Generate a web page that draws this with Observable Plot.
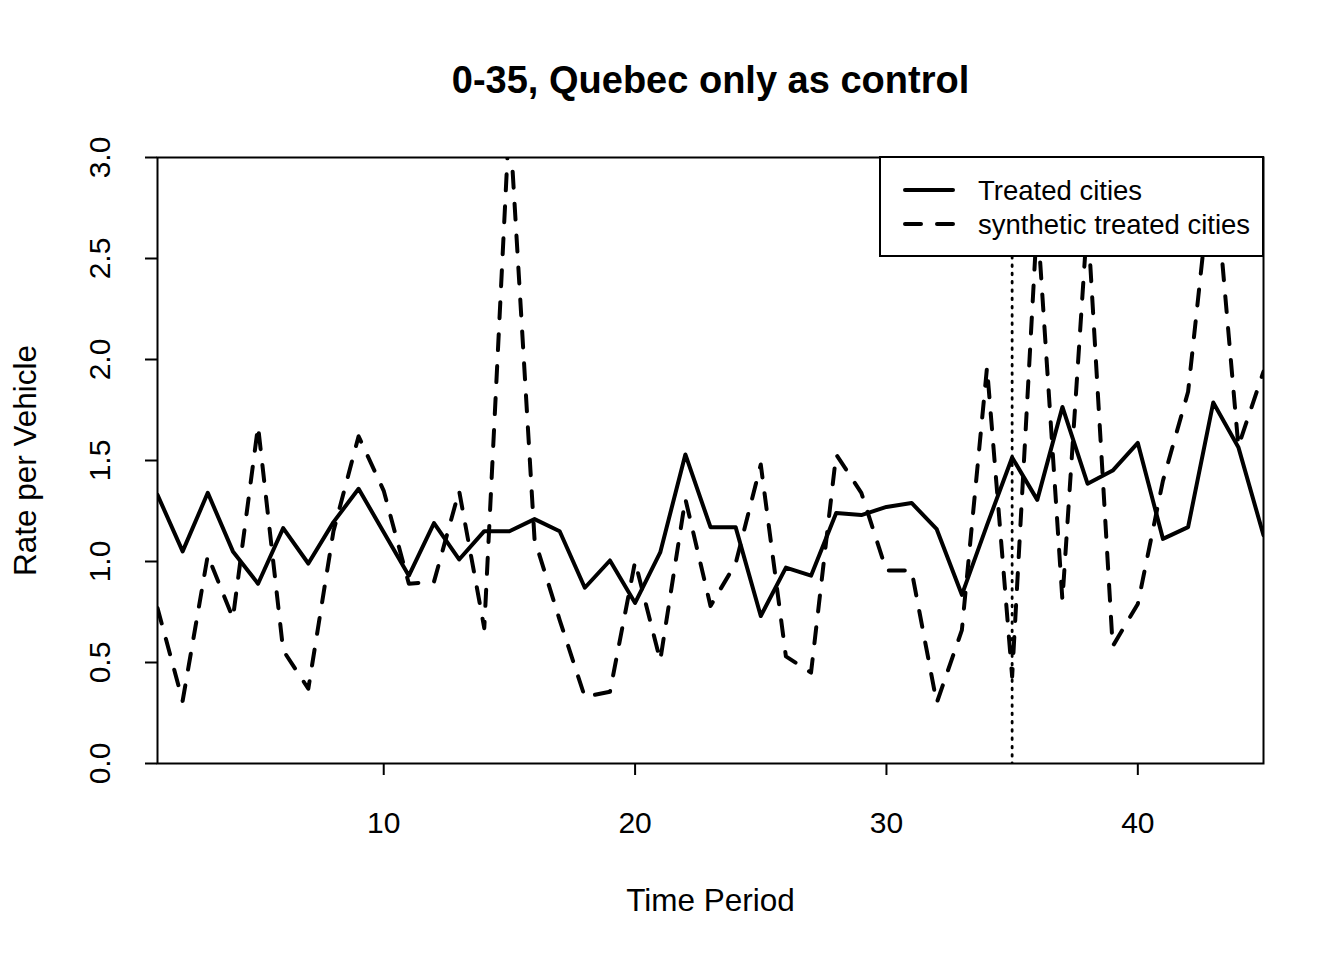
<!DOCTYPE html>
<html>
<head>
<meta charset="utf-8">
<script src="https://cdn.jsdelivr.net/npm/d3@7"></script>
<script src="https://cdn.jsdelivr.net/npm/@observablehq/plot@0.6"></script>
<style>
  body { margin: 0; background: #fff; }
  #wrap { position: relative; width: 1344px; height: 960px; font-family: "Liberation Sans", Arial, sans-serif; }
  #legend { position: absolute; left: 879px; top: 156px; width: 385px; height: 101px; box-sizing: border-box; border: 2px solid #000; background: #fff; }
  #legend svg { display: block; }
</style>
</head>
<body>
<div id="wrap"></div>
<script>
const periods = [1,2,3,4,5,6,7,8,9,10,11,12,13,14,15,16,17,18,19,20,21,22,23,24,25,26,27,28,29,30,31,32,33,34,35,36,37,38,39,40,41,42,43,44,45];
const treated = [1.33,1.05,1.34,1.05,0.89,1.165,0.99,1.195,1.36,1.145,0.93,1.19,1.01,1.15,1.15,1.21,1.15,0.87,1.005,0.795,1.045,1.53,1.17,1.17,0.73,0.97,0.93,1.24,1.23,1.27,1.29,1.16,0.835,1.18,1.515,1.305,1.765,1.385,1.45,1.587,1.112,1.17,1.787,1.566,1.13];
const synthetic = [0.77,0.31,1.03,0.72,1.67,0.56,0.37,1.15,1.62,1.35,0.89,0.90,1.35,0.67,3.2,1.11,0.71,0.33,0.355,1.0,0.51,1.31,0.78,0.99,1.48,0.53,0.45,1.53,1.34,0.955,0.955,0.30,0.66,1.96,0.43,2.7,0.81,2.7,0.58,0.79,1.40,1.84,3.0,1.57,1.94];
const xTicks = [10,20,30,40];
const yTicks = [0,0.5,1,1.5,2,2.5,3];
const treatmentPeriod = [35];
const titleText = ["0-35, Quebec only as control"];
const xLabel = ["Time Period"];
const yLabel = ["Rate per Vehicle"];
const seriesNames = ["Treated cities", "synthetic treated cities"];

const rows = periods.map((t, i) => ({t, treated: treated[i], synthetic: synthetic[i]}));
const font = '"Liberation Sans", Arial, sans-serif';

const chart = Plot.plot({
  width: 1344,
  height: 960,
  marginLeft: 157,
  marginRight: 81,
  marginTop: 157,
  marginBottom: 197,
  x: {domain: [1, 45], axis: null},
  y: {domain: [0, 3], axis: null},
  style: {background: "#fff", color: "#000", fontFamily: font},
  marks: [
    Plot.ruleX(treatmentPeriod, {stroke: "#000", strokeWidth: 2.8, strokeDasharray: "1.6,6.7", strokeLinecap: "round", clip: true}),
    Plot.line(rows, {x: "t", y: "synthetic", stroke: "#000", strokeWidth: 4, strokeDasharray: "16,16", strokeLinecap: "round", strokeLinejoin: "round", clip: true}),
    Plot.line(rows, {x: "t", y: "treated", stroke: "#000", strokeWidth: 4, strokeLinecap: "round", strokeLinejoin: "round", clip: true}),
    Plot.frame({stroke: "#000", strokeWidth: 2}),
    Plot.axisX({ticks: xTicks, tickSize: 12, strokeWidth: 2, tickFormat: () => "", label: null}),
    Plot.axisY({ticks: yTicks, tickSize: 12, strokeWidth: 2, tickFormat: () => "", label: null}),
    Plot.text(xTicks, {x: d => d, frameAnchor: "bottom", dy: 60, text: d => String(d), fontSize: 30, lineAnchor: "middle", fill: "#000"}),
    Plot.text(yTicks, {y: d => d, frameAnchor: "left", dx: -57, rotate: -90, text: d => d.toFixed(1), fontSize: 30, textAnchor: "middle", lineAnchor: "middle", fill: "#000"}),
    Plot.text(titleText, {frameAnchor: "top", dy: -77, text: d => d, fontSize: 38, fontWeight: "bold", textAnchor: "middle", lineAnchor: "middle", fill: "#000"}),
    Plot.text(xLabel, {frameAnchor: "bottom", dy: 137, text: d => d, fontSize: 31.5, textAnchor: "middle", lineAnchor: "middle", fill: "#000"}),
    Plot.text(yLabel, {frameAnchor: "left", dx: -132, rotate: -90, text: d => d, fontSize: 31.5, textAnchor: "middle", lineAnchor: "middle", fill: "#000"})
  ]
});

const wrap = document.getElementById("wrap");
wrap.appendChild(chart);

// Legend (drawn over the plot with a white box, like R's legend())
const legend = document.createElement("div");
legend.id = "legend";
wrap.appendChild(legend);
const lsvg = d3.select(legend).append("svg").attr("width", 381).attr("height", 97);
const styles = [null, "16,16"];
seriesNames.forEach((name, i) => {
  const y = 32 + i * 34;
  lsvg.append("line")
    .attr("x1", 24).attr("x2", 72).attr("y1", y).attr("y2", y)
    .attr("stroke", "#000").attr("stroke-width", 4).attr("stroke-linecap", "round")
    .attr("stroke-dasharray", styles[i]);
  lsvg.append("text")
    .attr("x", 97).attr("y", y).attr("dy", "0.35em")
    .attr("font-family", font).attr("font-size", 27.5).attr("fill", "#000")
    .text(name);
});
</script>
</body>
</html>
